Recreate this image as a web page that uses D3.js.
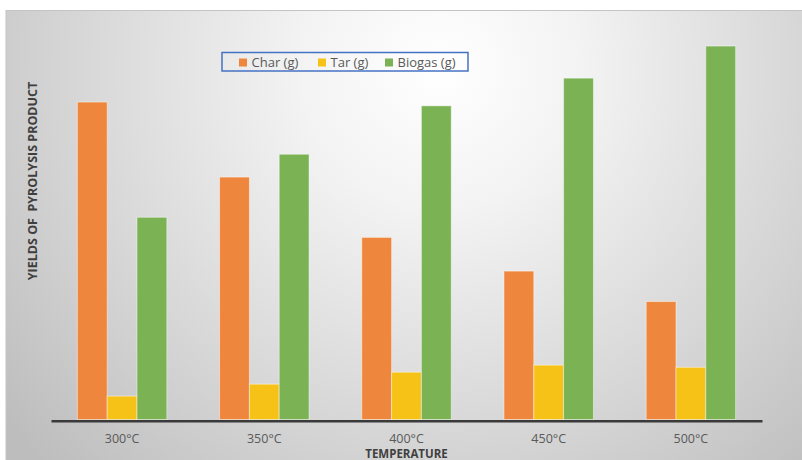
<!DOCTYPE html>
<html>
<head>
<meta charset="utf-8">
<script src="https://cdn.jsdelivr.net/npm/d3@7"></script>
<style>
  html, body { margin: 0; padding: 0; background: #ffffff; }
  svg { display: block; }
</style>
</head>
<body>
<svg id="chart" width="802" height="460"></svg>
<script>
// Pyrolysis product yields by temperature
const categories = ["300°C", "350°C", "400°C", "450°C", "500°C"];
const seriesNames = ["Char (g)", "Tar (g)", "Biogas (g)"];
const charValues = [58.4, 44.6, 33.5, 27.3, 21.7];
const tarValues = [4.3, 6.5, 8.7, 10.0, 9.6];
const biogasValues = [37.2, 48.8, 57.7, 62.8, 68.7];
const seriesColors = ["#EE873D", "#F7C217", "#7AB254"];

const seriesValues = [charValues, tarValues, biogasValues];
const rows = categories.map((c, i) => ({
  cat: c,
  values: seriesNames.map((s, k) => ({ key: s, value: seriesValues[k][i], color: seriesColors[k] }))
}));

const svg = d3.select("#chart");

// panel background with soft radial shading
const defs = svg.append("defs");
const grad = defs.append("radialGradient")
  .attr("id", "panelGrad")
  .attr("gradientUnits", "userSpaceOnUse")
  .attr("cx", 440).attr("cy", 70).attr("r", 560)
  .attr("fx", 440).attr("fy", 70);
grad.append("stop").attr("offset", "0").attr("stop-color", "#ffffff");
grad.append("stop").attr("offset", "0.25").attr("stop-color", "#f3f3f3");
grad.append("stop").attr("offset", "0.7").attr("stop-color", "#d3d3d3");
grad.append("stop").attr("offset", "1").attr("stop-color", "#bdbdbd");

svg.append("rect")
  .attr("x", 6).attr("y", 10.5)
  .attr("width", 800).attr("height", 455)
  .attr("fill", "url(#panelGrad)")
  .attr("stroke", "#c4c4c4")
  .attr("stroke-width", 1);

// scales
const x0 = d3.scaleBand()
  .domain(categories)
  .range([51, 762])
  .paddingInner(0.371)
  .paddingOuter(0.1855);

const x1 = d3.scaleBand()
  .domain(seriesNames)
  .range([0, x0.bandwidth()]);

const y = d3.scaleLinear()
  .domain([0, 70])
  .range([419.5, 39]);

// bars
const groups = svg.append("g")
  .selectAll("g")
  .data(rows)
  .join("g")
  .attr("transform", d => `translate(${x0(d.cat)},0)`);

groups.selectAll("rect")
  .data(d => d.values)
  .join("rect")
  .attr("x", d => x1(d.key))
  .attr("y", d => y(d.value))
  .attr("width", x1.bandwidth())
  .attr("height", d => y(0) - y(d.value))
  .attr("fill", d => d.color)
  .attr("stroke", "rgba(255,255,255,0.45)")
  .attr("stroke-width", 1);

// category axis
const xAxis = d3.axisBottom(x0).tickSize(0).tickPadding(13);
const gx = svg.append("g")
  .attr("transform", `translate(0,${y(0) + 1.2})`)
  .call(xAxis);
gx.select(".domain")
  .attr("stroke", "#3a3a3a")
  .attr("stroke-width", 2.6);
gx.selectAll("text")
  .attr("font-family", "'Open Sans', sans-serif")
  .attr("font-size", 12.5)
  .attr("fill", "#595959");

// axis titles
svg.append("text")
  .attr("x", x0("400°C") + x0.bandwidth() / 2)
  .attr("y", 457.5)
  .attr("text-anchor", "middle")
  .attr("font-family", "'Open Sans', sans-serif")
  .attr("font-weight", "bold")
  .attr("font-size", 11.5)
  .attr("fill", "#3f3f3f")
  .text("TEMPERATURE");

svg.append("text")
  .attr("transform", "translate(37,181) rotate(-90)")
  .attr("text-anchor", "middle")
  .attr("font-family", "'Open Sans', sans-serif")
  .attr("font-weight", "bold")
  .attr("font-size", 12.5)
  .attr("fill", "#3f3f3f")
  .attr("xml:space", "preserve")
  .style("white-space", "pre")
  .text("YIELDS OF  PYROLYSIS PRODUCT");

// legend
const legend = svg.append("g");
legend.append("rect")
  .attr("x", 222).attr("y", 52.5)
  .attr("width", 246).attr("height", 18.5)
  .attr("fill", "none")
  .attr("stroke", "#4472C4")
  .attr("stroke-width", 1.5);

const legendX = [239, 318, 385];
const items = legend.selectAll("g.item")
  .data(seriesNames)
  .join("g")
  .attr("class", "item")
  .attr("transform", (d, i) => `translate(${legendX[i]},0)`);
items.append("rect")
  .attr("x", 0).attr("y", 58.5)
  .attr("width", 8).attr("height", 8)
  .attr("fill", (d, i) => seriesColors[i]);
items.append("text")
  .attr("x", 12.5).attr("y", 66.5)
  .attr("font-family", "'Open Sans', sans-serif")
  .attr("font-size", 13)
  .attr("fill", "#595959")
  .text(d => d);
</script>
</body>
</html>
